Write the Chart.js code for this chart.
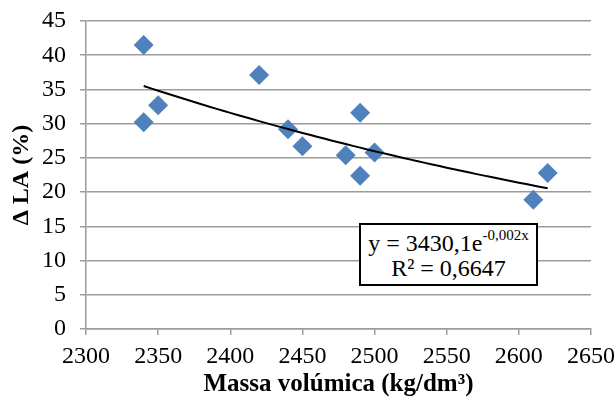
<!DOCTYPE html>
<html>
<head>
<meta charset="utf-8">
<script src="https://cdn.jsdelivr.net/npm/chart.js@4/dist/chart.umd.min.js"></script>
<style>
  html, body { margin: 0; padding: 0; background: #fff; }
  #wrap { position: relative; width: 615px; height: 401px; }
  #eq {
    position: absolute; left: 359px; top: 223px; width: 179px; height: 63px;
    border: 2px solid #000; background: #fff; box-sizing: border-box;
    font-family: "Liberation Serif", "Times New Roman", serif; font-size: 24px;
    text-align: center; line-height: 25px; padding-top: 6px;
  }
  #eq sup { font-size: 15px; position: relative; top: -2px; line-height: 0; }
</style>
</head>
<body>
<div id="wrap">
  <canvas id="chart" width="615" height="401"></canvas>
  <div id="eq">y = 3430,1e<sup>-0,002x</sup><br>R² = 0,6647</div>
</div>
<script>
// values
const massa = [2340, 2340, 2350, 2420, 2440, 2450, 2480, 2490, 2490, 2500, 2610, 2620];
const deltaLA = [41.5, 30.2, 32.7, 37.1, 29.2, 26.7, 25.4, 31.6, 22.4, 25.8, 18.9, 22.8];
const xAxisRange = [2300, 2650, 50];
const yAxisRange = [0, 45, 5];

const FONT = '"Liberation Serif", "Times New Roman", serif';
const GRID = '#9c9c9c';

// exponential trend fitted to the points (like the spreadsheet trendline)
function expFit(xs, ys) {
  const n = xs.length;
  const ly = ys.map(v => Math.log(v));
  const mx = xs.reduce((a, b) => a + b, 0) / n;
  const my = ly.reduce((a, b) => a + b, 0) / n;
  let sxy = 0, sxx = 0;
  for (let i = 0; i < n; i++) {
    sxy += (xs[i] - mx) * (ly[i] - my);
    sxx += (xs[i] - mx) * (xs[i] - mx);
  }
  const b = sxy / sxx;
  return {a: Math.exp(my - b * mx), b: b};
}
const fit = expFit(massa, deltaLA);
const trend = [];
for (let x = Math.min(...massa); x <= Math.max(...massa); x += 5) {
  trend.push({x: x, y: fit.a * Math.exp(fit.b * x)});
}

const points = massa.map((m, i) => ({x: m, y: deltaLA[i]}));

new Chart('chart', {
  type: 'scatter',
  data: {
    datasets: [
      {
        data: trend,
        type: 'line',
        borderColor: '#000',
        borderWidth: 2,
        pointRadius: 0,
        fill: false,
        order: 0
      },
      {
        data: points,
        pointStyle: 'rectRot',
        pointRadius: 10,
        pointBackgroundColor: '#4F81BD',
        pointBorderWidth: 0,
        order: 1
      }
    ]
  },
  options: {
    responsive: false,
    animation: false,
    devicePixelRatio: 1,
    layout: {padding: {top: 21, right: 24, left: 0, bottom: 0}},
    plugins: {legend: {display: false}, tooltip: {enabled: false}},
    scales: {
      x: {
        type: 'linear',
        min: xAxisRange[0], max: xAxisRange[1],
        ticks: {stepSize: xAxisRange[2], color: '#000', font: {family: FONT, size: 24}, padding: 7, maxRotation: 0,
                callback: v => String(v)},
        grid: {drawOnChartArea: false, drawTicks: true, tickLength: 6, color: GRID, lineWidth: 1.5},
        border: {display: true, color: GRID, width: 1.5},
        title: {display: true, text: 'Massa volúmica (kg/dm³)', color: '#000', font: {family: FONT, size: 25, weight: 'bold'}, padding: {top: 0, bottom: 1}},
        afterFit: s => { s.height = 72; s.paddingLeft = 0; s.paddingRight = 0; }
      },
      y: {
        min: yAxisRange[0], max: yAxisRange[1],
        ticks: {stepSize: yAxisRange[2], color: '#000', font: {family: FONT, size: 24}, padding: 14,
                callback: v => String(v)},
        grid: {drawTicks: true, tickLength: 6, color: GRID, lineWidth: 1.5},
        border: {display: true, color: GRID, width: 1.5},
        title: {display: true, text: 'Δ LA (%)', color: '#000', font: {family: FONT, size: 24, weight: 'bold'}, padding: {top: 7, bottom: 0}},
        afterFit: s => { s.width = 86; s.paddingTop = 0; s.paddingBottom = 0; }
      }
    }
  }
});
</script>
</body>
</html>
